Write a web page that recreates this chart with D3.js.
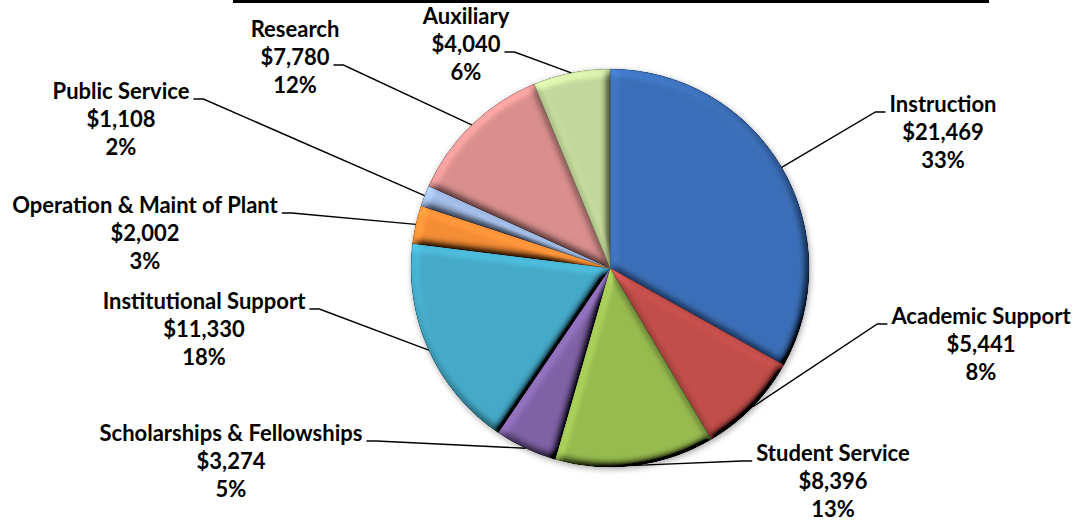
<!DOCTYPE html>
<html>
<head>
<meta charset="utf-8">
<script src="https://cdn.jsdelivr.net/npm/d3@7"></script>
<style>
  html, body { margin: 0; padding: 0; background: #ffffff; }
  svg { display: block; }
  .lbl { font-family: "Lato", "Open Sans", sans-serif; font-weight: 700; fill: #000; }
</style>
</head>
<body>
<svg id="chart" width="1073" height="521"></svg>
<script>
// Expense categories, clockwise from 12 o'clock
const categories = [
  "Instruction", "Academic Support", "Student Service",
  "Scholarships & Fellowships", "Institutional Support",
  "Operation & Maint of Plant", "Public Service", "Research", "Auxiliary"
];
// Amounts (thousands of dollars)
const expenses = [21469, 5441, 8396, 3274, 11330, 2002, 1108, 7780, 4040];
// Percent shares as printed on the labels
const percentLabels = ["33%", "8%", "13%", "5%", "18%", "3%", "2%", "12%", "6%"];

const sliceColors = [
  "#3C6FB8", "#C24E4B", "#98BB50", "#7F62A6", "#45AAC8",
  "#F58D36", "#9DB6DE", "#D98F8D", "#C3D89B"
];

// Label placement: centre x, first baseline, which line the leader joins,
// and which side of the pie the label sits on (1 = right, -1 = left)
const labelLayout = [
  { x: 943, y: 112, line: 0, side:  1 },
  { x: 981, y: 324, line: 0, side:  1 },
  { x: 833, y: 461, line: 0, side:  1 },
  { x: 231, y: 441, line: 0, side: -1 },
  { x: 204, y: 309, line: 0, side: -1 },
  { x: 145, y: 213, line: 0, side: -1 },
  { x: 121, y:  99, line: 0, side: -1 },
  { x: 295, y:  37, line: 1, side: -1 },
  { x: 466, y:  24, line: 1, side: -1 }
];

const W = 1073, H = 521;
const cx = 610, cy = 268, R = 199;
const lineGap = 28;
const fontSize = 22;

const svg = d3.select("#chart");
const defs = svg.append("defs");

// Soft bevel on each slice: lighting over the blurred slice outline
const bevel = defs.append("filter").attr("id", "bevel")
  .attr("x", "-5%").attr("y", "-5%").attr("width", "110%").attr("height", "110%");
bevel.append("feGaussianBlur").attr("in", "SourceAlpha").attr("stdDeviation", 4.5).attr("result", "blur");
const diff = bevel.append("feDiffuseLighting").attr("in", "blur")
  .attr("surfaceScale", 7).attr("diffuseConstant", 1).attr("lighting-color", "#ffffff").attr("result", "light");
diff.append("feDistantLight").attr("azimuth", 235).attr("elevation", 45);
bevel.append("feComposite").attr("in", "light").attr("in2", "SourceAlpha").attr("operator", "in").attr("result", "lightIn");
bevel.append("feComposite").attr("in", "SourceGraphic").attr("in2", "lightIn")
  .attr("operator", "arithmetic").attr("k1", 1.41).attr("k2", 0).attr("k3", 0).attr("k4", 0);

// Faint shadow under the whole pie
const shadow = defs.append("filter").attr("id", "pieShadow")
  .attr("x", "-10%").attr("y", "-10%").attr("width", "120%").attr("height", "120%");
shadow.append("feGaussianBlur").attr("in", "SourceAlpha").attr("stdDeviation", 3);
shadow.append("feOffset").attr("dx", 1).attr("dy", 2).attr("result", "off");
shadow.append("feComponentTransfer").attr("in", "off").attr("result", "soft")
  .append("feFuncA").attr("type", "linear").attr("slope", 0.35);
const sm = shadow.append("feMerge");
sm.append("feMergeNode").attr("in", "soft");
sm.append("feMergeNode").attr("in", "SourceGraphic");

// Header rule
svg.append("rect").attr("x", 233).attr("y", 0).attr("width", 756).attr("height", 3).attr("fill", "#000");

const pie = d3.pie().sort(null).value(d => d)
  .startAngle(0).endAngle(2 * Math.PI);
const arcs = pie(expenses);

const arc = d3.arc().innerRadius(0).outerRadius(R);
const rimArc = d3.arc().innerRadius(R).outerRadius(R);

const color = d3.scaleOrdinal().domain(categories).range(sliceColors);

const pieG = svg.append("g").attr("transform", `translate(${cx},${cy})`)
  .attr("filter", "url(#pieShadow)");

pieG.selectAll("path.slice")
  .data(arcs)
  .join("path")
  .attr("class", "slice")
  .attr("d", arc)
  .attr("fill", (d, i) => color(categories[i]))
  .attr("stroke", (d, i) => d3.color(color(categories[i])).darker(0.8))
  .attr("stroke-width", 0.7)
  .attr("filter", "url(#bevel)");

// Labels and leader lines
const fmt = d3.format("$,");
const labels = svg.append("g");
const leaders = svg.append("g");

arcs.forEach((d, i) => {
  const L = labelLayout[i];
  const lines = [categories[i], fmt(expenses[i]), percentLabels[i]];
  const t = labels.append("text").attr("class", "lbl")
    .attr("font-size", fontSize).attr("text-anchor", "middle");
  const spans = lines.map((s, k) =>
    t.append("tspan").attr("x", L.x).attr("y", L.y + k * lineGap).text(s));

  const w = spans[L.line].node().getComputedTextLength();
  const ay = L.y + L.line * lineGap;
  const startX = L.side < 0 ? L.x + w / 2 + 4 : L.x - w / 2 - 4;
  const elbowX = startX - L.side * 10;
  const [px, py] = rimArc.centroid(d);
  leaders.append("path")
    .attr("d", d3.line()([[startX, ay], [elbowX, ay], [cx + px, cy + py]]))
    .attr("fill", "none").attr("stroke", "#000").attr("stroke-width", 1.4);
});
</script>
</body>
</html>
